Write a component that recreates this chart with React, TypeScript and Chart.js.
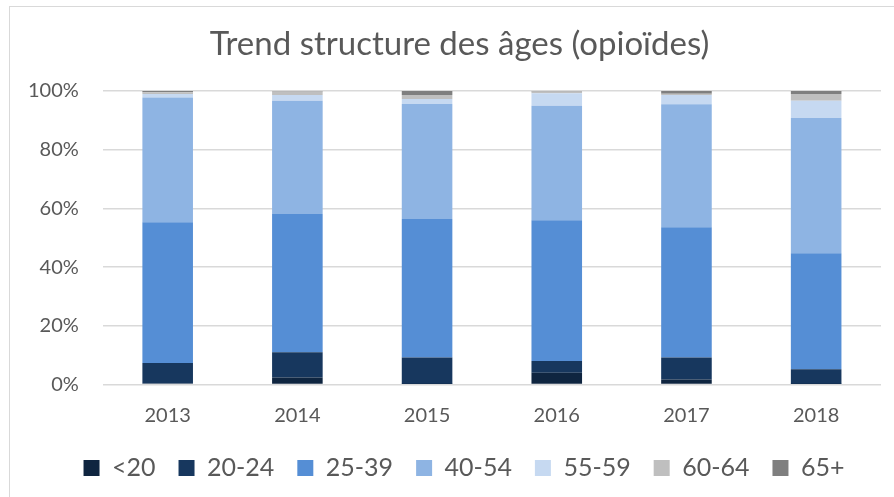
import React, { useEffect, useRef } from "react";
import { Chart, registerables } from "chart.js";

Chart.register(...registerables);

const years = ["2013", "2014", "2015", "2016", "2017", "2018"];
const seriesNames = ["<20", "20-24", "25-39", "40-54", "55-59", "60-64", "65+"];
const under20 = [0.3, 2.4, 0.2, 4.0, 1.7, 0.2];
const age20to24 = [7.0, 8.6, 9.0, 4.0, 7.5, 5.0];
const age25to39 = [48.0, 47.1, 47.2, 48.0, 44.4, 39.5];
const age40to54 = [42.5, 38.6, 39.2, 39.0, 41.9, 46.1];
const age55to59 = [1.2, 1.9, 1.7, 4.2, 3.1, 5.9];
const age60to64 = [0.6, 1.2, 1.3, 0.6, 0.5, 2.3];
const age65plus = [0.4, 0.2, 1.4, 0.2, 0.9, 1.0];
const colors = ["#0f2540", "#17375e", "#558ed5", "#8eb4e3", "#c6d9f1", "#bfbfbf", "#7f7f7f"];
const yTicks = [0, 20, 40, 60, 80, 100];

const boxShift = {
  id: "boxShift",
  afterLayout(chart: any) {
    const lg = chart.legend;
    if (lg) {
      lg.left += 21.5;
      lg.right += 21.5;
    }
    const tb = chart.titleBlock;
    if (tb) {
      tb.left += 17;
      tb.right += 17;
    }
  },
};

export default function App() {
  const ref = useRef<HTMLCanvasElement | null>(null);
  useEffect(() => {
    document.body.style.margin = "0";
    const values = [under20, age20to24, age25to39, age40to54, age55to59, age60to64, age65plus];
    const chart = new Chart(ref.current as HTMLCanvasElement, {
      type: "bar",
      data: {
        labels: years,
        datasets: seriesNames.map((n, i) => ({
          label: n,
          data: values[i],
          backgroundColor: colors[i],
          borderWidth: 0,
          barPercentage: 0.39,
          categoryPercentage: 1,
        })),
      },
      plugins: [boxShift],
      options: {
        animation: false,
        responsive: false,
        maintainAspectRatio: false,
        layout: { padding: { left: 4, right: 13, top: 0, bottom: 6.5 } },
        plugins: {
          tooltip: { enabled: false },
          title: {
            display: true,
            text: "Trend structure des âges (opioïdes)",
            color: "#595959",
            font: { family: "Lato", size: 33, weight: "normal" },
            padding: { top: 25, bottom: 26.4 },
          },
          legend: {
            position: "bottom",
            labels: {
              color: "#595959",
              font: { family: "Lato", size: 25 },
              boxWidth: 16,
              boxHeight: 16,
              padding: 23,
            },
          },
        },
        scales: {
          x: {
            stacked: true,
            grid: { display: false },
            border: { display: false },
            ticks: { color: "#595959", font: { family: "Lato", size: 20 }, padding: 11.5 },
            afterFit: (axis: any) => {
              axis.height -= 7;
            },
          },
          y: {
            stacked: true,
            min: 0,
            max: 100,
            afterBuildTicks: (axis: any) => {
              axis.ticks = yTicks.map((v) => ({ value: v }));
            },
            grid: { color: "#d9d9d9", lineWidth: 1.5, drawTicks: false },
            border: { display: false },
            ticks: {
              color: "#595959",
              font: { family: "Lato", size: 20 },
              padding: 24,
              callback: (v: any) => v + "%",
            },
          },
        },
      },
    });
    return () => chart.destroy();
  }, []);
  return (
    <div style={{ width: 894, height: 497, position: "relative", overflow: "hidden" }}>
      <div
        style={{
          position: "absolute",
          left: 9,
          top: 6,
          width: 1000,
          height: 1000,
          borderTop: "1px solid #d9d9d9",
          borderLeft: "1px solid #d9d9d9",
        }}
      />
      <canvas ref={ref} width={894} height={497} style={{ display: "block", position: "relative" }} />
    </div>
  );
}
